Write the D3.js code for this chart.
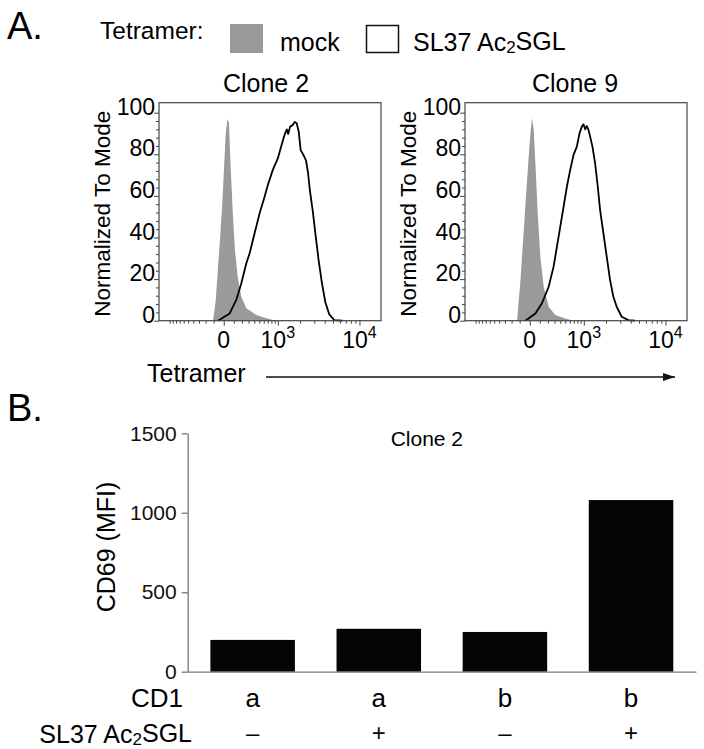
<!DOCTYPE html>
<html>
<head>
<meta charset="utf-8">
<script src="https://cdn.jsdelivr.net/npm/d3@7"></script>
<style>
html,body{margin:0;padding:0;background:#fff;}
svg{display:block;font-family:"Liberation Sans",Arial,Helvetica,sans-serif;}
</style>
</head>
<body>
<svg id="chart" width="704" height="749"></svg>
<script>
// ---------------- DATA ----------------
// Panel A: flow cytometry histograms, [fluorescence, % of mode]
const mockClone2 = [[-107,0],[-77,10],[-53,26],[-30,42],[-11,58],[3,74],[18,90],[34,97],[49,95],[59,82],[74,66],[91,50],[113,34],[146,21],[193,11.5],[265,6],[439,2.7],[661,1.2],[946,0]];
const sl37Clone2 = [[-53,0],[56,3.5],[129,10],[193,18],[265,27.6],[318,32.4],[406,42],[506,51.6],[620,59.6],[702,65.2],[841,72.5],[999,78],[1117,83.7],[1244,89.3],[1337,92],[1396,89.8],[1484,93.3],[1608,94.1],[1707,95.5],[1813,94.9],[1923,90.9],[2037,82],[2205,79.7],[2380,77],[2519,71],[2665,62],[2870,53],[3093,42],[3387,29],[3710,18],[4061,9],[4524,3],[5170,0.3],[6432,0]];
const mockClone9 = [[-130,0],[-91,19.6],[-56,43.6],[-24,67.6],[-3,83.7],[12,93.3],[21,97.3],[37,91.7],[53,75.7],[77,51.6],[106,30.8],[146,16.3],[211,6.7],[312,2.7],[499,1.1],[694,0]];
const sl37Clone9 = [[-40,0],[53,3.5],[125,8.4],[211,16.3],[285,26],[340,35.6],[400,45.2],[465,54.8],[534,64.4],[611,72.5],[694,79.7],[784,83.7],[862,90.1],[934,93.3],[989,94.4],[1045,92],[1104,93.6],[1166,91.7],[1230,88.5],[1324,83.7],[1438,75.7],[1562,64.4],[1676,53.2],[1851,42],[2039,30.8],[2246,19.6],[2470,11.5],[2715,6.7],[3121,1.9],[3746,0.3],[4483,0]];
const histTitles = ["Clone 2","Clone 9"];
const histYTicks = [0,20,40,60,80,100];
const histXTicks = [{v:0,base:"0",sup:""},{v:1000,base:"10",sup:"3"},{v:10000,base:"10",sup:"4"}];
const legendItems = ["mock","SL37 Ac2SGL"];

// Panel B: CD69 MFI bars
const cd1 = ["a","a","b","b"];
const lipid = ["\u2013","+","\u2013","+"];
const cd69 = [200,270,250,1080];
const barYTicks = [0,500,1000,1500];

// ---------------- DRAW ----------------
const svg = d3.select("#chart");
svg.append("rect").attr("width",704).attr("height",749).attr("fill","#fff");

function subText(sel, parts){
  parts.forEach(([t,k])=>{
    const ts = sel.append("tspan").text(t);
    if(k==="sub") ts.attr("font-size","0.68em").attr("dy","0.1em");
    if(k==="after") ts.attr("dy","-0.1em");
  });
}
const labelParts = [["SL37 Ac",""],["2","sub"],["SGL","after"]];

// Panel labels
svg.append("text").attr("x",7).attr("y",39).attr("font-size",38).text("A.");
svg.append("text").attr("x",7).attr("y",421).attr("font-size",38).text("B.");

// Legend
svg.append("text").attr("x",100).attr("y",39).attr("font-size",24.5).text("Tetramer:");
svg.append("rect").attr("x",230).attr("y",24).attr("width",33).attr("height",29).attr("fill","#999");
svg.append("text").attr("x",280).attr("y",51).attr("font-size",25).text(legendItems[0]);
svg.append("rect").attr("x",366.5).attr("y",25.5).attr("width",32).attr("height",27).attr("fill","#fff").attr("stroke","#111").attr("stroke-width",1.5);
subText(svg.append("text").attr("x",413).attr("y",51).attr("font-size",25), labelParts);

// Histograms
const hp = {top:102.7, h:218, w:222};
const panelX = [159,465];
const histData = [[mockClone2,sl37Clone2],[mockClone9,sl37Clone9]];

panelX.forEach((x0,i)=>{
  const g = svg.append("g").attr("transform",`translate(${x0},${hp.top})`);
  const x = d3.scaleSymlog().constant(350).domain([-1410,17360]).range([0,hp.w]);
  const y = d3.scaleLinear().domain([0,104.8]).range([hp.h,0]);
  const area = d3.area().x(d=>x(d[0])).y0(y(0)).y1(d=>y(d[1]));
  const line = d3.line().x(d=>x(d[0])).y(d=>y(d[1]));
  g.append("path").datum(histData[i][0]).attr("d",area).attr("fill","#9a9a9a");
  g.append("path").datum(histData[i][1]).attr("d",line).attr("fill","none").attr("stroke","#000").attr("stroke-width",1.8).attr("stroke-linejoin","round");
  g.append("rect").attr("x",0).attr("y",0).attr("width",hp.w).attr("height",hp.h).attr("fill","none").attr("stroke","#444").attr("stroke-width",1.2);
  // y ticks
  const yMinor = d3.range(0,101,4).filter(v=>v%20!==0);
  const ya = g.append("g").call(d3.axisLeft(y).tickValues(histYTicks).tickSize(5).tickFormat(""));
  ya.select(".domain").remove();
  ya.selectAll("line").attr("stroke","#444");
  const yam = g.append("g").call(d3.axisLeft(y).tickValues(yMinor).tickSize(3).tickFormat(""));
  yam.select(".domain").remove(); yam.selectAll("line").attr("stroke","#444");
  histYTicks.forEach(v=>{
    g.append("text").attr("x",-4).attr("y",y(v)-6).attr("dy","0.35em").attr("text-anchor","end").attr("font-size",23).text(v);
  });
  // x ticks
  const minorVals = [-1000];
  for(let k=1;k<=9;k++){ minorVals.push(-k*100); minorVals.push(k*100); if(k>1) minorVals.push(k*1000); }
  const xam = g.append("g").attr("transform",`translate(0,${hp.h})`).call(d3.axisBottom(x).tickValues(minorVals).tickSize(3).tickFormat(""));
  xam.select(".domain").remove(); xam.selectAll("line").attr("stroke","#444");
  const xa = g.append("g").attr("transform",`translate(0,${hp.h})`).call(d3.axisBottom(x).tickValues(histXTicks.map(d=>d.v)).tickSize(5).tickFormat(""));
  xa.select(".domain").remove(); xa.selectAll("line").attr("stroke","#444");
  histXTicks.forEach(t=>{
    const tx = g.append("text").attr("x",x(t.v)).attr("y",hp.h+27).attr("text-anchor","middle").attr("font-size",23);
    tx.append("tspan").text(t.base);
    if(t.sup) tx.append("tspan").attr("dy",-10).attr("font-size",16).text(t.sup);
  });
  // y label
  g.append("text").attr("transform",`translate(${-49},${hp.h/2+2}) rotate(-90)`).attr("text-anchor","middle").attr("font-size",22.5).text("Normalized To Mode");
  // title
  g.append("text").attr("x",[107,110][i]).attr("y",-11).attr("text-anchor","middle").attr("font-size",25).text(histTitles[i]);
});

// Tetramer axis label and arrow
svg.append("text").attr("x",147).attr("y",382).attr("font-size",25).text("Tetramer");
const defs = svg.append("defs");
defs.append("marker").attr("id","arr").attr("viewBox","0 0 12 8").attr("refX",12).attr("refY",4)
  .attr("markerWidth",12).attr("markerHeight",8).attr("markerUnits","userSpaceOnUse").attr("orient","auto")
  .append("path").attr("d","M0,0L12,4L0,8z").attr("fill","#111");
svg.append("line").attr("x1",266).attr("x2",675).attr("y1",377).attr("y2",377).attr("stroke","#111").attr("stroke-width",1.3).attr("marker-end","url(#arr)");

// Panel B bar chart
const bx0 = 187.7, bx1 = 696, by0 = 671.7, by1 = 433.3;
const xb = d3.scaleBand().domain(d3.range(cd69.length)).range([bx0,bx1]).paddingInner(0.33).paddingOuter(0.18);
const yb = d3.scaleLinear().domain([0,1500]).range([by0,by1]);
svg.append("g").selectAll("rect").data(cd69).join("rect")
  .attr("x",(d,i)=>xb(i)).attr("width",xb.bandwidth())
  .attr("y",d=>yb(d)).attr("height",d=>yb(0)-yb(d)).attr("fill","#050505");
const yAxB = svg.append("g").attr("transform",`translate(${bx0},0)`).call(d3.axisLeft(yb).tickValues(barYTicks).tickSize(6).tickSizeOuter(0).tickPadding(5).tickFormat(d3.format("d")));
yAxB.select(".domain").attr("stroke","#777").attr("stroke-width",1.3);
yAxB.selectAll("line").attr("stroke","#777").attr("stroke-width",1.3);
yAxB.selectAll("text").attr("font-size",21).attr("font-family","'Liberation Sans',Arial,sans-serif").attr("fill","#111");
const xAxB = svg.append("g").attr("transform",`translate(0,${by0})`).call(d3.axisBottom(xb).tickSize(0).tickFormat(""));
xAxB.select(".domain").attr("stroke","#777").attr("stroke-width",1.3);
svg.append("text").attr("transform",`translate(115,547) rotate(-90)`).attr("text-anchor","middle").attr("font-size",25).text("CD69 (MFI)");
svg.append("text").attr("x",(bx0+bx1)/2-15).attr("y",446).attr("text-anchor","middle").attr("font-size",21).text("Clone 2");
svg.append("text").attr("x",183).attr("y",707).attr("text-anchor","end").attr("font-size",26).text("CD1");
subText(svg.append("text").attr("x",192).attr("y",743).attr("text-anchor","end").attr("font-size",25), labelParts);
svg.append("g").selectAll("text").data(cd1).join("text")
  .attr("x",(d,i)=>xb(i)+xb.bandwidth()/2).attr("y",707).attr("text-anchor","middle").attr("font-size",26).text(d=>d);
svg.append("g").selectAll("text").data(lipid).join("text")
  .attr("x",(d,i)=>xb(i)+xb.bandwidth()/2).attr("y",741).attr("text-anchor","middle").attr("font-size",24).text(d=>d);
</script>
</body>
</html>
